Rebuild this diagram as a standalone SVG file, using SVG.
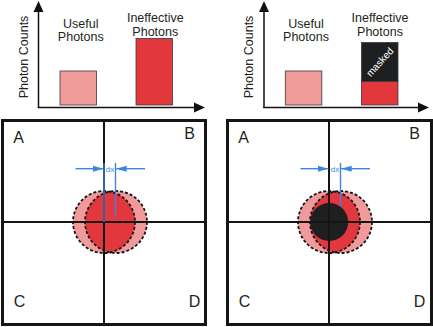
<svg xmlns="http://www.w3.org/2000/svg" width="433" height="327" viewBox="0 0 433 327">
<style>
text{font-family:"Liberation Sans",Arial,sans-serif;fill:#231f20}
.lbl{font-size:12.5px;text-anchor:middle}
.quad{font-size:16px}
.axis{stroke:#111;stroke-width:1.5;fill:none}
.ah{fill:#111}
.box{fill:#fff;stroke:#151515;stroke-width:3}
.cross{stroke:#151515;stroke-width:2}
.pink{fill:#f19a9b}
.red{fill:#e2383d}
.dark{fill:#1d1f20}
.bar{stroke:#3a3a3a;stroke-width:0.8}
.dash{fill:none;stroke:#151515;stroke-width:1.8;stroke-dasharray:3 2}
.blue{stroke:#3b86e0;stroke-width:1.4;fill:none}
.dx{font-size:8px;fill:#3b86e0;text-anchor:middle}
</style>
<defs>
<marker id="bh" markerWidth="11" markerHeight="7" refX="10.5" refY="3.5" orient="auto" markerUnits="userSpaceOnUse">
<path d="M0,0.5 L10.5,3.5 L0,6.5 Z" fill="#3b86e0"/>
</marker>
<clipPath id="cL"><circle cx="116" cy="222" r="31"/></clipPath>
<clipPath id="cR"><circle cx="341" cy="222" r="31"/></clipPath>
</defs>

<g id="chart-left">
<line class="axis" x1="38.5" y1="108" x2="38.5" y2="9"/>
<polygon class="ah" points="38.5,1 33.5,12 43.5,12"/>
<line class="axis" x1="37.8" y1="107.5" x2="196" y2="107.5"/>
<polygon class="ah" points="205,107.5 194,102.5 194,112.5"/>
<text class="lbl" transform="translate(27.5,57) rotate(-90)">Photon Counts</text>
<rect class="pink bar" x="60" y="71" width="36.5" height="34"/>
<rect class="red bar" x="136" y="38.5" width="36.5" height="66.5"/>
<text class="lbl" x="80.8" y="27.5">Useful</text>
<text class="lbl" x="80.8" y="41">Photons</text>
<text class="lbl" x="155.3" y="21.5">Ineffective</text>
<text class="lbl" x="155.3" y="36">Photons</text>
</g>

<g id="chart-right">
<line class="axis" x1="264" y1="108" x2="264" y2="9"/>
<polygon class="ah" points="264,1 259,12 269,12"/>
<line class="axis" x1="263.3" y1="107.5" x2="420" y2="107.5"/>
<polygon class="ah" points="429,107.5 418,102.5 418,112.5"/>
<text class="lbl" transform="translate(252.5,57) rotate(-90)">Photon Counts</text>
<rect class="pink bar" x="285.3" y="71" width="36.5" height="34"/>
<rect class="dark bar" x="361.5" y="42.5" width="36.5" height="39"/>
<rect class="red bar" x="361.5" y="81.5" width="36.5" height="23.5"/>
<text x="0" y="0" transform="translate(379.8,62) rotate(-48)" style="font-size:10px;fill:#fff;text-anchor:middle;dominant-baseline:central">masked</text>
<text class="lbl" x="306" y="27.5">Useful</text>
<text class="lbl" x="306" y="41">Photons</text>
<text class="lbl" x="380" y="21.5">Ineffective</text>
<text class="lbl" x="380" y="36">Photons</text>
</g>

<g id="panel-left">
<rect class="box" x="2.5" y="120.5" width="203" height="204"/>
<circle class="pink" cx="104" cy="222" r="31"/>
<circle class="pink" cx="116" cy="222" r="31"/>
<circle class="red" cx="104" cy="222" r="31" clip-path="url(#cL)"/>
<circle class="dash" cx="104" cy="222" r="31"/>
<circle class="dash" cx="116" cy="222" r="31"/>
<line class="cross" x1="104" y1="120.5" x2="104" y2="324.5"/>
<line class="cross" x1="2.5" y1="222" x2="205.5" y2="222"/>
<text class="quad" x="13.3" y="143.3">A</text>
<text class="quad" x="184.3" y="139.3">B</text>
<text class="quad" x="13.8" y="307.3">C</text>
<text class="quad" x="188.7" y="307.3">D</text>
</g>

<g id="panel-right">
<rect class="box" x="227.5" y="120.5" width="204" height="204"/>
<circle class="pink" cx="329" cy="222" r="31"/>
<circle class="pink" cx="341" cy="222" r="31"/>
<circle class="red" cx="329" cy="222" r="31" clip-path="url(#cR)"/>
<circle class="dash" cx="329" cy="222" r="31"/>
<circle class="dash" cx="341" cy="222" r="31"/>
<line class="blue" x1="329" y1="163" x2="329" y2="222"/>
<line class="blue" x1="340.5" y1="163" x2="340.5" y2="217"/>
<circle class="dark" cx="329.2" cy="222" r="19"/>
<line class="cross" x1="329" y1="120.5" x2="329" y2="324.5"/>
<line class="cross" x1="227.5" y1="222" x2="431.5" y2="222"/>
<text class="quad" x="238.3" y="143.3">A</text>
<text class="quad" x="409.3" y="139.3">B</text>
<text class="quad" x="238.8" y="307.3">C</text>
<text class="quad" x="413.7" y="307.3">D</text>
</g>

<g id="connectors">
<line class="blue" x1="104" y1="163" x2="104" y2="222"/>
<line class="blue" x1="115.5" y1="163" x2="115.5" y2="217"/>
<line class="blue" x1="75.5" y1="168.7" x2="103.3" y2="168.7" marker-end="url(#bh)"/>
<line class="blue" x1="145" y1="168.7" x2="116.2" y2="168.7" marker-end="url(#bh)"/>
<text class="dx" x="110" y="172">dx</text>
<line class="blue" x1="300.5" y1="168.7" x2="328.3" y2="168.7" marker-end="url(#bh)"/>
<line class="blue" x1="370" y1="168.7" x2="341.2" y2="168.7" marker-end="url(#bh)"/>
<text class="dx" x="335" y="172">dx</text>
</g>
</svg>
